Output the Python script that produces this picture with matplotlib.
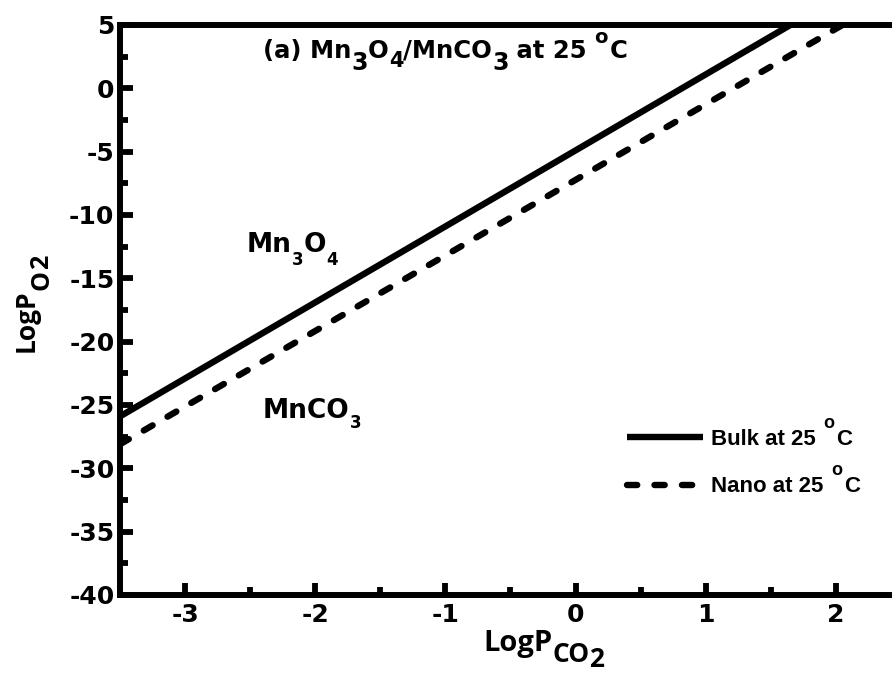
import matplotlib
matplotlib.use("Agg")
import matplotlib.pyplot as plt
from matplotlib.ticker import MultipleLocator

plt.rcParams['font.family'] = ['DejaVu Sans']
plt.rcParams['font.weight'] = 'bold'
plt.rcParams['axes.unicode_minus'] = False

# Data
x_bulk = [-3.5, 1.65]
y_bulk = [-25.9, 5.0]
x_nano = [-3.5, 2.05]
y_nano = [-28.1, 5.0]
series_labels = ['Bulk at 25', 'Nano at 25']
xticks = [-3, -2, -1, 0, 1, 2]
yticks = [5, 0, -5, -10, -15, -20, -25, -30, -35, -40]

W, H = 892, 675
fig = plt.figure(figsize=(W / 100, H / 100), dpi=100)
# axes in pixels: left spine 120, top 25, bottom 595, x=2.5 at ~901 (cropped)
ax = fig.add_axes([120 / W, (H - 595) / H, (901 - 120) / W, (595 - 25) / H])

LW = 4.6
ax.plot(x_bulk, y_bulk, color='black', lw=LW, solid_capstyle='butt', label=series_labels[0])
ax.plot(x_nano, y_nano, color='black', lw=LW, linestyle=(0, (1.6, 2.7)),
        dash_capstyle='round', label=series_labels[1])

ax.set_xlim(-3.5, 2.5)
ax.set_ylim(-40, 5)
ax.set_xticks(xticks)
ax.set_yticks(yticks)
ax.xaxis.set_minor_locator(MultipleLocator(0.5))
ax.yaxis.set_minor_locator(MultipleLocator(2.5))
ax.tick_params(which='major', direction='in', length=9, width=4.2, labelsize=18)
ax.tick_params(which='minor', direction='in', length=5.5, width=4.2)
ax.tick_params(axis='x', which='major', pad=6)
ax.tick_params(axis='y', which='major', pad=4)
for lab in ax.get_xticklabels() + ax.get_yticklabels():
    lab.set_fontweight('bold')
    lab.set_family('DejaVu Sans')
for s in ['left', 'bottom', 'top']:
    ax.spines[s].set_linewidth(4.3)
ax.spines['right'].set_visible(False)

leg = ax.legend(loc='center left', bbox_to_anchor=(627 / W, 1 - 463 / H),
                bbox_transform=fig.transFigure, frameon=False,
                prop={'family': 'Liberation Sans', 'weight': 'bold', 'size': 16},
                handlelength=3.4, handletextpad=0.36, labelspacing=1.2,
                borderpad=0, borderaxespad=0)

renderer = fig.canvas.get_renderer()


def pieces(x0, y0, parts, family='DejaVu Sans', rotation=0):
    """Draw a run of text pieces starting at pixel (x0, y0-from-top baseline).
    parts: (text, size, dy_down_px, gap_before_px)"""
    x, y = x0, y0
    for s, size, dy, gap in parts:
        if rotation == 0:
            x += gap
            t = fig.text(x / W, 1 - (y + dy) / H, s, fontsize=size, fontweight='bold',
                         family=family, ha='left', va='baseline')
            x += t.get_window_extent(renderer).width
        else:
            y -= gap
            t = fig.text((x + dy) / W, 1 - y / H, s, fontsize=size, fontweight='bold',
                         family=family, ha='left', va='baseline', rotation=90,
                         rotation_mode='anchor')
            y -= t.get_window_extent(renderer).height


# title
pieces(263, 58, [('(a) Mn', 17.5, 0, 0), ('3', 17, 12, 0), ('O', 17.5, 0, 0),
                 ('4', 15, 9, 0), ('/MnCO', 17.5, 0, 0), ('3', 17, 12, 0),
                 (' at 25', 17.5, 0, 0), ('o', 14, -15, 7), ('C', 17.5, 0, 2)])
# region labels
pieces(247, 252, [('Mn', 19, 0, 0), ('3', 12, 13, 0), ('O', 19, 0, 0), ('4', 12, 13, 0)])
pieces(263, 418, [('MnCO', 19, 0, 0), ('3', 12, 10, 0)])

# axis labels
pieces(483, 651, [('LogP', 21, 0, 0), ('CO', 19, 11, 0), ('2', 19, 16, 0)],
       family=['Open Sans', 'DejaVu Sans'])
pieces(34, 352, [('LogP', 19, 0, 0), ('O', 18, 14, 0), ('2', 18, 14, 0)],
       family=['Open Sans', 'DejaVu Sans'], rotation=90)

# degree marks after legend labels
fig.canvas.draw()
for t in leg.get_texts():
    bb = t.get_window_extent(renderer)
    bx, by = t.get_transform().transform(t.get_position())
    pieces(bb.x1, H - by, [('o', 13, -17, 8), ('C', 16, 0, 2)], family='Liberation Sans')

fig.savefig('out.png', dpi=100)
